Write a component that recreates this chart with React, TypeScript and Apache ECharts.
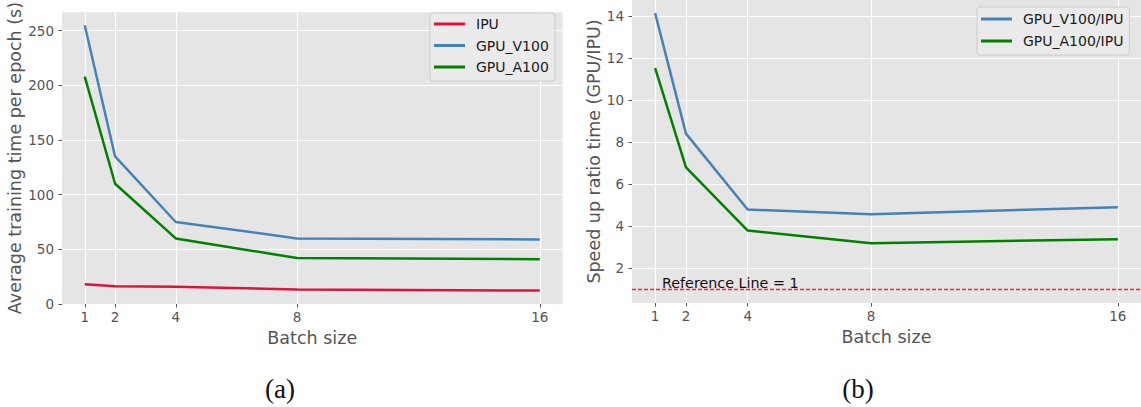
import React, { useEffect, useRef } from "react";
import * as echarts from "echarts";

const batchSizes = [1, 2, 4, 8, 16];
const ipuTime = [18, 16.3, 15.8, 13.3, 12.3];
const v100Time = [255, 135, 75, 60, 59];
const a100Time = [208, 110, 60, 42, 41];
const v100Ratio = [14.13, 8.4, 4.79, 4.57, 4.9];
const a100Ratio = [11.51, 6.79, 3.79, 3.19, 3.38];
const leftYTicks = [0, 50, 100, 150, 200, 250];
const rightYTicks = [2, 4, 6, 8, 10, 12, 14];
const referenceValue = 1;

const FONT = "DejaVu Sans";
const GREY = "#555555";

function pairs(ys: number[]) {
  return batchSizes.map((x, i) => [x, ys[i]]);
}

function xAxis(gridIndex: number) {
  return {
    type: "value",
    gridIndex,
    min: 0.25,
    max: 16.75,
    name: "Batch size",
    nameLocation: "middle",
    nameGap: 22,
    nameTextStyle: { fontFamily: FONT, fontSize: 17.5, color: GREY },
    axisLine: { show: false },
    axisTick: { show: true, length: 3.5, lineStyle: { color: GREY, width: 1 }, customValues: batchSizes },
    axisLabel: { fontFamily: FONT, fontSize: 13.5, color: GREY, margin: 6, customValues: batchSizes },
    splitLine: { show: true, lineStyle: { color: "#ffffff", width: 1.2 } },
  };
}

function yAxis(gridIndex: number, min: number, max: number, ticks: number[], name: string, nameGap: number) {
  return {
    type: "value",
    gridIndex,
    min,
    max,
    name,
    nameLocation: "middle",
    nameGap,
    nameTextStyle: { fontFamily: FONT, fontSize: 17.5, color: GREY },
    axisLine: { show: false },
    axisTick: { show: true, length: 3.5, lineStyle: { color: GREY, width: 1 }, customValues: ticks },
    axisLabel: { fontFamily: FONT, fontSize: 13.5, color: GREY, margin: 8, customValues: ticks },
    splitLine: { show: true, lineStyle: { color: "#ffffff", width: 1.2 } },
  };
}

function lineSeries(name: string, data: number[], color: string, idx: number) {
  return {
    type: "line",
    name,
    xAxisIndex: idx,
    yAxisIndex: idx,
    data: pairs(data),
    showSymbol: false,
    symbol: "none",
    lineStyle: { color, width: 2.5 },
    itemStyle: { color },
  };
}

function legend(names: string[], left: number, top: number, gap: number, padTop: number) {
  return {
    data: names,
    orient: "vertical",
    left,
    top,
    icon: "rect",
    itemWidth: 31,
    itemHeight: 3,
    itemGap: gap,
    padding: [padTop, 6, 7, 4],
    backgroundColor: "rgba(234,234,234,0.9)",
    borderColor: "#cccccc",
    borderWidth: 1,
    borderRadius: 3,
    textStyle: { fontFamily: FONT, fontSize: 14, color: "#1a1a1a", lineHeight: 14, padding: [0, 0, 0, 6] },
  };
}

export default function App() {
  const ref = useRef<HTMLDivElement>(null);
  useEffect(() => {
    document.body.style.margin = "0";
    const chart = echarts.init(ref.current!, null, { renderer: "svg" });
    const ratioV100 = lineSeries("GPU_V100/IPU", v100Ratio, "#4682b4", 1) as any;
    const refStyle = { color: "#ff2020", width: 1.3, type: [4, 2], opacity: 1 };
    ratioV100.markLine = {
      silent: true,
      symbol: ["none", "none"],
      lineStyle: refStyle,
      emphasis: { disabled: true },
      label: {
        show: true,
        position: "insideStartTop",
        formatter: "Reference Line = 1",
        fontFamily: FONT,
        fontSize: 14.3,
        color: "#111111",
        distance: [30, -1],
      },
      data: [{ yAxis: referenceValue, lineStyle: refStyle }],
    };
    chart.setOption({
      animation: false,
      backgroundColor: "#ffffff",
      grid: [
        { left: 62, top: 6, width: 500.5, height: 298, show: true, backgroundColor: "#e5e5e5", borderWidth: 0 },
        { left: 632, top: 0, width: 509, height: 303, show: true, backgroundColor: "#e5e5e5", borderWidth: 0 },
      ],
      xAxis: [xAxis(0), xAxis(1)],
      yAxis: [
        yAxis(0, 0, 267, leftYTicks, "Average training time per epoch (s)", 36),
        yAxis(1, 0.345, 14.755, rightYTicks, "Speed up ratio time (GPU/IPU)", 28),
      ],
      legend: [
        legend(["IPU", "GPU_V100", "GPU_A100"], 430, 13, 7.5, 4),
        legend(["GPU_V100/IPU", "GPU_A100/IPU"], 977, 7, 8, 5),
      ],
      graphic: [
        { type: "text", x: 280, y: 389, style: { text: "(a)", font: '27px "Liberation Serif"', fill: "#111", align: "center", verticalAlign: "middle" } },
        { type: "text", x: 858, y: 389, style: { text: "(b)", font: '27px "Liberation Serif"', fill: "#111", align: "center", verticalAlign: "middle" } },
      ],
      series: [
        lineSeries("IPU", ipuTime, "#dc143c", 0),
        lineSeries("GPU_V100", v100Time, "#4682b4", 0),
        lineSeries("GPU_A100", a100Time, "#008000", 0),
        ratioV100,
        lineSeries("GPU_A100/IPU", a100Ratio, "#008000", 1),
      ],
    });
    return () => chart.dispose();
  }, []);
  return <div ref={ref} style={{ position: "absolute", left: 0, top: 0, width: 1141, height: 407 }} />;
}
